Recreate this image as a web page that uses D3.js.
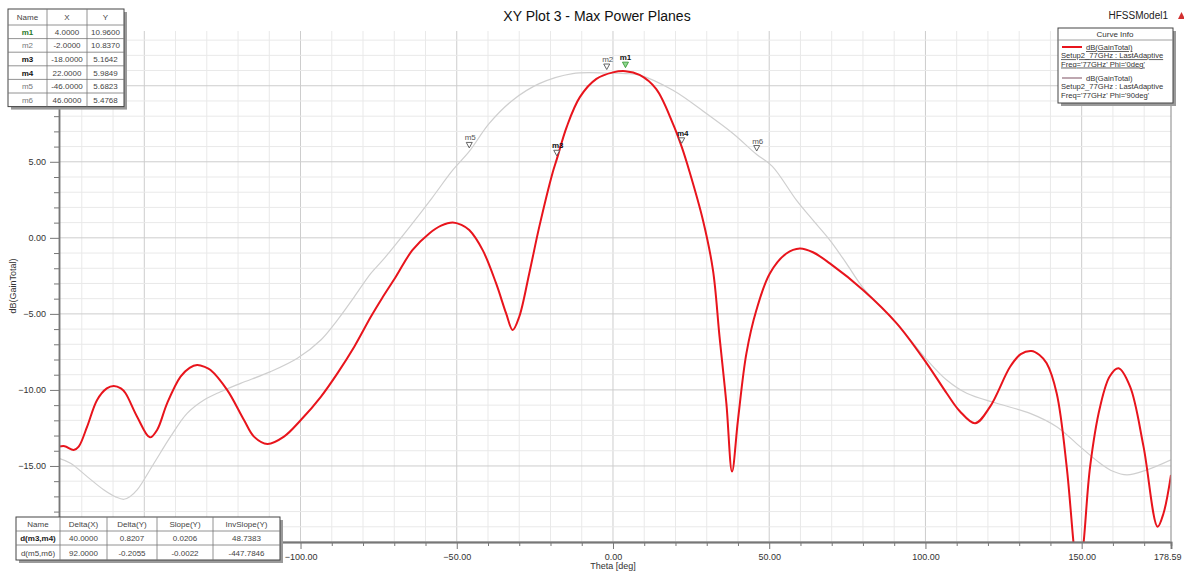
<!DOCTYPE html>
<html><head><meta charset="utf-8">
<script src="https://cdn.jsdelivr.net/npm/d3@7"></script>
<style>
html,body{margin:0;padding:0;background:#fff;}
svg{display:block;font-family:"Liberation Sans",Arial,sans-serif;}
</style></head>
<body>
<svg id="c" width="1184" height="573"></svg>
<script>
// ---- data ----
const thetaPhi0 = [-177.3,-175.5,-172.6,-171,-168.3,-165.1,-162,-159.8,-157.5,-156,-152.3,-148.2,-145.9,-142.7,-138.4,-135.5,-133.1,-130.5,-128.8,-123.5,-118.1,-114.9,-110.6,-105.3,-99.9,-93.5,-88.2,-82.8,-77.5,-74,-69.5,-64.2,-58.8,-55,-51.3,-48.5,-46,-41.7,-37.4,-34.2,-32.1,-30,-26.8,-23.6,-19.3,-18,-14.8,-10.6,-5.3,0,4,8.5,13.8,19.2,22,24.5,28.8,32,34.1,36.3,38.1,40,42.7,45.9,50.2,55.5,59.8,64,69.4,80.1,90.8,100.4,106.8,111,115.9,120.7,127.1,130.5,133.9,136.5,138.8,142,145.2,147.4,148.9,150.6,152.7,155.9,159,161.8,165.5,169.8,174.3,176.2,178.59];
const gainPhi0 = [-13.73,-13.7,-13.95,-13.73,-12.42,-10.66,-9.9,-9.74,-9.9,-10.22,-11.76,-13.12,-12.63,-10.88,-9.13,-8.55,-8.36,-8.5,-8.69,-10.0,-11.98,-13.07,-13.55,-13.07,-11.98,-10.45,-8.91,-7.16,-5.19,-4.0,-2.56,-0.81,0.29,0.8,1.01,0.85,0.51,-0.81,-3.0,-4.97,-6.06,-5.19,-2.34,0.72,4.3,5.16,7.3,9.25,10.45,10.88,10.96,10.72,9.8,7.5,5.98,4.35,1.16,-2.12,-6.5,-10.9,-15.37,-11.98,-7.6,-4.75,-2.34,-1.03,-0.7,-0.95,-1.68,-3.44,-5.62,-8.25,-10.22,-11.4,-12.19,-11.1,-8.48,-7.65,-7.44,-7.7,-8.25,-10.22,-15.04,-20.08,-23.0,-20.08,-15.04,-11.1,-9.1,-8.58,-9.79,-13.73,-18.99,-18.11,-15.59];
const thetaPhi90 = [-177.3,-173.6,-168.3,-162.9,-159,-156.5,-154.5,-152.3,-146.9,-141.6,-136.3,-130.9,-125.6,-119.2,-109.6,-101,-93.5,-88.2,-82.8,-77.5,-73.2,-65,-58,-51.3,-46,-39.6,-32.1,-23.6,-12.9,-2,4,8.5,19.2,29.9,38.4,46,51,58.7,64,69.4,74.7,80.1,90.8,100.4,106.8,113.2,122.8,133.5,142,149.5,155.9,160,164.5,170.9,178.59];
const gainPhi90 = [-14.5,-14.82,-15.7,-16.58,-17.05,-17.19,-17.0,-16.58,-14.82,-13.07,-11.54,-10.66,-10.12,-9.57,-8.8,-7.92,-6.72,-5.41,-3.88,-2.34,-1.35,0.74,2.6,4.45,5.68,7.52,9.05,10.14,10.8,10.837,10.8,10.7,9.7,8.17,6.86,5.48,4.7,2.48,1.16,-0.15,-1.68,-3.3,-5.62,-8.0,-9.35,-10.22,-10.88,-11.54,-12.42,-13.73,-14.82,-15.35,-15.59,-15.26,-14.6];

const markerNames = ["m1","m2","m3","m4","m5","m6"];
const markerX = [4,-2,-18,22,-46,46];
const markerY = [10.96,10.837,5.1642,5.9849,5.6823,5.4768];
const markerXText = ["4.0000","-2.0000","-18.0000","22.0000","-46.0000","46.0000"];
const markerYText = ["10.9600","10.8370","5.1642","5.9849","5.6823","5.4768"];

const deltaHeader = ["Name","Delta(X)","Delta(Y)","Slope(Y)","InvSlope(Y)"];
const deltaNames = ["d(m3,m4)","d(m5,m6)"];
const deltaX = ["40.0000","92.0000"];
const deltaY = ["0.8207","-0.2055"];
const slopeY = ["0.0206","-0.0022"];
const invSlopeY = ["48.7383","-447.7846"];

// labels hidden behind the tables in the reference (-150, -20, 10) are not drawn
const xTickValues = [-100,-50,0,50,100,150,178.59];
const yTickValues = [-15,-10,-5,0,5];
const xDomain = [-177.3,178.59];
const yDomain = [-20,13.6];

const legendTitle = "Curve Info";
const legendLines = [
  ["dB(GainTotal)","Setup2_77GHz : LastAdaptive","Freq='77GHz' Phi='0deg'"],
  ["dB(GainTotal)","Setup2_77GHz : LastAdaptive","Freq='77GHz' Phi='90deg'"]
];

// ---- layout ----
const svg = d3.select("#c");
const L=59, R=1171, T=31, B=542;
const x = d3.scaleLinear().domain(xDomain).range([L,R]);
const y = d3.scaleLinear().domain(yDomain).range([B,T]);
const RED="#e8141c", GREY="#cfcfcf";

// grid
const g = svg.append("g");
const minorX = d3.range(-170,179,10), minorY = d3.range(-20,14,1);
g.selectAll(".vx").data(minorX).join("line")
  .attr("x1",d=>x(d)).attr("x2",d=>x(d)).attr("y1",T).attr("y2",B)
  .attr("stroke",d=>d%50===0?"#cdcdcd":"#e9e9e9").attr("stroke-width",1);
g.selectAll(".hy").data(minorY).join("line")
  .attr("y1",d=>y(d)).attr("y2",d=>y(d)).attr("x1",L).attr("x2",R)
  .attr("stroke",d=>d%5===0?"#cdcdcd":"#e9e9e9").attr("stroke-width",1);

// clip
svg.append("clipPath").attr("id","pc").append("rect").attr("x",L).attr("y",T).attr("width",R-L).attr("height",B-T);

const line = d3.line().x(d=>x(d[0])).y(d=>y(d[1])).curve(d3.curveCatmullRom.alpha(0.5));
svg.append("path").datum(d3.zip(thetaPhi90,gainPhi90)).attr("d",line)
  .attr("fill","none").attr("stroke",GREY).attr("stroke-width",1.2).attr("clip-path","url(#pc)");
svg.append("path").datum(d3.zip(thetaPhi0,gainPhi0)).attr("d",line)
  .attr("fill","none").attr("stroke",RED).attr("stroke-width",2).attr("clip-path","url(#pc)");

// axes
const xAxis = d3.axisBottom(x).tickValues(xTickValues).tickSize(7).tickPadding(5).tickFormat(d3.format(".2f"));
const gx = svg.append("g").attr("transform",`translate(0,${B})`).call(xAxis);
gx.selectAll(".tick:last-of-type text").attr("text-anchor","end").attr("dx","10");
const xMinor = d3.axisBottom(x).tickValues(minorX.filter(d=>d%50!==0)).tickSize(4).tickFormat("");
svg.append("g").attr("transform",`translate(0,${B})`).call(xMinor);
const xMinor2 = d3.axisBottom(x).tickValues([-150]).tickSize(7).tickFormat("");
svg.append("g").attr("transform",`translate(0,${B})`).call(xMinor2);
const yAxis = d3.axisLeft(y).tickValues(yTickValues).tickSize(9).tickPadding(4).tickFormat(d3.format(".2f"));
const gy = svg.append("g").attr("transform",`translate(${L},0)`).call(yAxis);
const yMinor = d3.axisLeft(y).tickValues(minorY.filter(d=>d%5!==0)).tickSize(5).tickFormat("");
svg.append("g").attr("transform",`translate(${L},0)`).call(yMinor);
svg.selectAll(".domain").attr("stroke","#777").attr("stroke-width",1.5);
svg.selectAll(".tick line").attr("stroke","#777");
svg.selectAll(".tick text").attr("fill","#333").style("font-size","9px");
svg.append("line").attr("x1",R).attr("x2",R).attr("y1",T).attr("y2",B).attr("stroke","#999").attr("stroke-width",1.2);

// axis titles
svg.append("text").attr("x",613).attr("y",569).attr("text-anchor","middle").attr("fill","#333").style("font-size","9px").text("Theta [deg]");
svg.append("text").attr("transform","translate(16,286) rotate(-90)").attr("text-anchor","middle").attr("fill","#333").style("font-size","9px").text("dB(GainTotal)");

// title
svg.append("text").attr("x",597).attr("y",21).attr("text-anchor","middle").attr("fill","#111").style("font-size","14px").text("XY Plot 3 - Max Power Planes");
svg.append("text").attr("x",1168).attr("y",19).attr("text-anchor","end").attr("fill","#222").style("font-size","10px").text("HFSSModel1");
svg.append("path").attr("d","M1178,19 L1181.5,12 L1185,19 Z").attr("fill","#d23030");

// markers
const mk = svg.append("g");
markerNames.forEach((n,i)=>{
  const px=x(markerX[i]), py=y(markerY[i]);
  const bold = (n==="m1"||n==="m3"||n==="m4");
  mk.append("path").attr("d",`M${px-3},${py-9} L${px+3},${py-9} L${px},${py-3.5} Z`)
    .attr("fill", n==="m1"?"#8fd88f":"#fff").attr("stroke", n==="m1"?"#3a9a3a":"#555").attr("stroke-width",0.9);
  mk.append("text").attr("x",px+ (n==="m1"?0:1)).attr("y",py-11).attr("text-anchor","middle")
    .attr("fill",bold?"#111":"#555").style("font-size","8px").style("font-weight",bold?"bold":"normal").text(n);
});

// table helper
function table(x0,y0,colW,rowH,rows,styler){
  const W=d3.sum(colW), H=d3.sum(rowH);
  const t=svg.append("g");
  t.append("rect").attr("x",x0+3).attr("y",y0+3).attr("width",W).attr("height",H).attr("fill","#9a9a9a");
  t.append("rect").attr("x",x0).attr("y",y0).attr("width",W).attr("height",H).attr("fill","#fff").attr("stroke","#444").attr("stroke-width",1);
  let cy=y0;
  rows.forEach((r,ri)=>{
    let cx=x0;
    r.forEach((c,ci)=>{
      const tx=t.append("text").attr("x",cx+colW[ci]/2).attr("y",cy+rowH[ri]/2+3).attr("text-anchor","middle")
        .style("font-size","8px").attr("fill","#444").text(c);
      if(styler) styler(tx,ri,ci,c);
      cx+=colW[ci];
    });
    cy+=rowH[ri];
    if(ri<rows.length-1) t.append("line").attr("x1",x0).attr("x2",x0+W).attr("y1",cy).attr("y2",cy).attr("stroke","#777").attr("stroke-width",0.8);
  });
  let cx=x0;
  colW.slice(0,-1).forEach(w=>{cx+=w; t.append("line").attr("x1",cx).attr("x2",cx).attr("y1",y0).attr("y2",y0+H).attr("stroke","#777").attr("stroke-width",0.8);});
}

const mrows=[["Name","X","Y"]].concat(markerNames.map((n,i)=>[n,markerXText[i],markerYText[i]]));
table(8,9,[39,40,37],[16,13.6,13.6,13.6,13.6,13.6,13.6],mrows,(tx,ri,ci,c)=>{
  if(ci===0&&ri>0){
    if(c==="m1") tx.attr("fill","#2a7a2a").style("font-weight","bold");
    else if(c==="m3"||c==="m4") tx.attr("fill","#111").style("font-weight","bold");
    else tx.attr("fill","#777");
  }
});
const drows=[deltaHeader].concat(deltaNames.map((n,i)=>[n,deltaX[i],deltaY[i],slopeY[i],invSlopeY[i]]));
table(16,517,[44,47,50,56,67],[14,14,15],drows,(tx,ri,ci,c)=>{
  if(ri===1&&ci===0) tx.style("font-weight","bold").attr("fill","#222");
});

// legend
const lg=svg.append("g");
lg.append("rect").attr("x",1061).attr("y",31).attr("width",115).attr("height",75).attr("fill","#9a9a9a");
lg.append("rect").attr("x",1058).attr("y",28).attr("width",115).attr("height",75).attr("fill","#fff").attr("stroke","#444");
lg.append("text").attr("x",1115).attr("y",37).attr("text-anchor","middle").style("font-size","8px").attr("fill","#333").text(legendTitle);
lg.append("line").attr("x1",1058).attr("x2",1173).attr("y1",40).attr("y2",40).attr("stroke","#888").attr("stroke-width",0.8);
const lcol=[RED,"#a88a96"];
legendLines.forEach((ls,i)=>{
  const y0=50+i*31;
  lg.append("line").attr("x1",1062).attr("x2",1082).attr("y1",y0-3).attr("y2",y0-3).attr("stroke",lcol[i]).attr("stroke-width",i===0?2:1.5);
  ls.forEach((s,j)=>{
    lg.append("text").attr("x",j===0?1086:1061).attr("y",y0+j*8.3).style("font-size","7.6px").attr("fill","#333")
      .style("text-decoration",i===0?"underline":"none").text(s);
  });
});
</script>
</body></html>
